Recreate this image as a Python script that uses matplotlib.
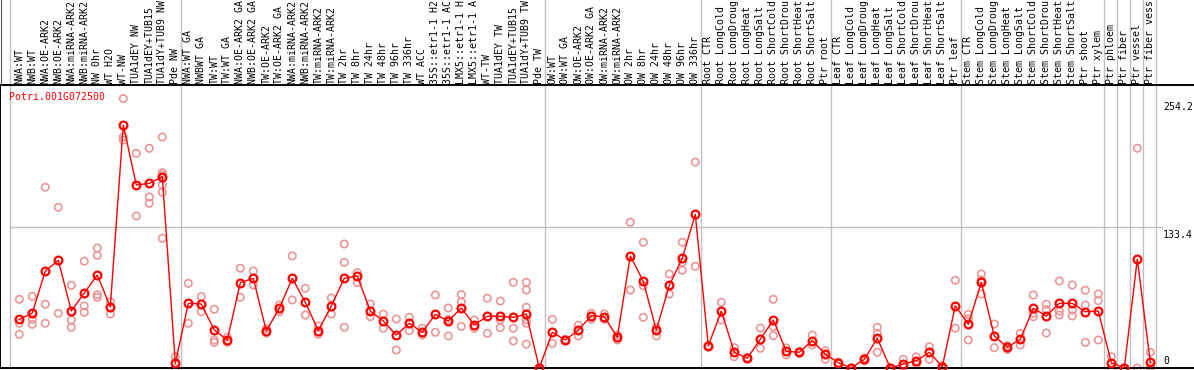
import matplotlib
matplotlib.use('Agg')
import matplotlib.pyplot as plt
import matplotlib.transforms as mtransforms
from matplotlib.lines import Line2D

gene = 'Potri.001G072500'

# sample names as they show in the header (cut at the top edge)
samples = [
    'NWA:WT', 'NWB:WT', 'NWA:OE-ARK2', 'NWB:OE-ARK2', 'NWA:miRNA-ARK2', 'NWB:miRNA-ARK2',
    'NW 0hr', 'WT H2O', 'WT-NW', 'TUA1dEY NW', 'TUA1dEY+TUB15', 'TUA1dY+TUB9 NW', 'Pde NW',
    'NWA:WT GA', 'NWBWT GA', 'TW:WT', 'TW:WT GA', 'NWA:OE-ARK2 GA', 'NWB:OE-ARK2 GA',
    'TW:OE-ARK2', 'TW:OE-ARK2 GA', 'NWA:miRNA-ARK2', 'NWB:miRNA-ARK2', 'TW:miRNA-ARK2',
    'TW:miRNA-ARK2', 'TW 2hr', 'TW 8hr', 'TW 24hr', 'TW 48hr', 'TW 96hr', 'TW 336hr',
    'WT ACC', '35S::etr1-1 H2', '35S::etr1-1 AC', 'LMX5::etr1-1 H', 'LMX5::etr1-1 A',
    'WT-TW', 'TUA1dEY TW', 'TUA1dEY+TUB15', 'TUA1dY+TUB9 TW', 'Pde TW',
    'OW:WT', 'OW:WT GA', 'OW:OE-ARK2', 'OW:OE-ARK2 GA', 'OW:miRNA-ARK2', 'OW:miRNA-ARK2',
    'OW 2hr', 'OW 8hr', 'OW 24hr', 'OW 48hr', 'OW 96hr', 'OW 336hr',
    'Root CTR', 'Root LongCold', 'Root LongDroug', 'Root LongHeat', 'Root LongSalt',
    'Root ShortCold', 'Root ShortDrou', 'Root ShortHeat', 'Root ShortSalt', 'Ptr root',
    'Leaf CTR', 'Leaf LongCold', 'Leaf LongDroug', 'Leaf LongHeat', 'Leaf LongSalt',
    'Leaf ShortCold', 'Leaf ShortDrou', 'Leaf ShortHeat', 'Leaf ShortSalt', 'Ptr leaf',
    'Stem CTR', 'Stem LongCold', 'Stem LongDroug', 'Stem LongHeat', 'Stem LongSalt',
    'Stem ShortCold', 'Stem ShortDrou', 'Stem ShortHeat', 'Stem ShortSalt', 'Ptr shoot',
    'Ptr xylem', 'Ptr phloem', 'Ptr fiber', 'Ptr vessel', 'Ptr fiber vess',
]

means = [
    45.9, 51.9, 91.5, 101.6, 53.8, 70.8, 87.7, 57.5, 229.2, 172.6, 174.2, 180.5, 4.4,
    61.0, 60.4, 35.8, 26.4, 80.5, 84.6, 34.9, 56.3, 84.6, 62.0, 35.2, 58.5, 84.6, 86.8,
    53.8, 44.3, 31.1, 42.2, 33.7, 50.7, 44.3, 56.6, 40.6, 48.8, 48.8, 47.8, 50.9, 0.0,
    33.7, 26.4, 35.8, 49.3, 48.4, 29.0, 105.7, 81.8, 35.8, 78.0, 103.5, 145.0,
    20.8, 53.8, 14.8, 9.2, 27.1, 45.3, 15.8, 14.8, 25.8, 13.2,
    5.0, 0.0, 8.2, 28.0, 0.0, 3.8, 6.9, 14.8, 1.2, 58.8,
    41.2, 80.8, 30.2, 19.5, 27.1, 56.3, 49.1, 61.0, 61.0, 53.1, 53.8,
    5.0, 0.0, 102.8, 5.4,
]

replicates = [
    [64.8, 42.2, 31.8], [67.6, 45.9, 41.2], [170.5, 60.1, 42.2], [151.6, 51.6],
    [78.0, 45.3, 38.4], [100.7, 58.5, 52.5], [113.2, 106.3, 69.2, 66.7], [62.5, 50.9, 57.5],
    [254.2, 218.0, 215.0], [202.5, 143.4], [207.3, 161.3, 155.4],
    [217.9, 184.2, 182.0, 172.6, 165.8, 122.4], [10.7, 0.0],
    [79.9, 42.2], [67.3, 53.1], [55.4, 26.4, 24.2], [29.0, 24.2], [94.1, 66.7], [91.5, 78.3],
    [33.0, 37.0], [59.4, 53.1], [105.7, 64.2], [75.2, 50.0], [39.6, 31.8], [66.0, 50.9],
    [117.0, 99.7, 38.4], [89.9, 80.5], [60.4, 48.4], [50.9, 37.5], [46.2, 17.0],
    [47.8, 35.2], [37.5, 31.1], [68.9, 33.7], [56.6, 45.9, 30.2], [69.2, 62.3, 39.3],
    [45.3, 37.5], [65.8, 32.7], [63.2, 45.3, 38.0], [80.8, 37.5, 25.5],
    [80.8, 73.6, 57.3, 45.3, 42.2, 22.4], [0.0, 0.0],
    [45.9, 23.3], [27.0, 25.8], [40.3, 30.2], [51.6, 45.9], [45.9, 51.0], [31.1, 26.4],
    [137.5, 73.6], [118.6, 77.6, 47.8], [38.4, 30.2], [88.7, 69.8], [118.6, 99.7, 92.2],
    [194.3, 95.9],
    [20.1, 21.5], [62.0, 45.3], [19.2, 10.7], [8.5, 9.9], [37.7, 18.6], [64.8, 39.0, 30.5],
    [12.3, 19.0], [14.0, 15.6], [31.1, 21.7], [16.3, 8.2],
    [4.5, 5.5], [0.0, 0.0], [6.9, 9.5], [38.4, 32.7, 14.8], [0.0, 0.0], [8.2, 1.2],
    [10.5, 3.3], [20.1, 8.2], [2.4, 0.0], [82.7, 37.5],
    [50.7, 46.5, 26.4], [88.7, 83.0, 69.8], [41.5, 19.2], [17.6, 21.0], [32.7, 21.7],
    [68.9, 48.4, 51.6], [60.1, 55.0, 33.0], [82.1, 50.0, 53.8], [78.3, 54.7, 49.1],
    [73.3, 59.4, 24.2], [69.8, 63.5, 26.4],
    [10.7, 0.0], [0.0, 0.0], [207.3, 0.0], [14.8, 1.5, 0.0],
]

separators = [-0.7, 12.4, 40.4, 52.4, 62.4, 72.4, 83.4, 84.4, 85.4, 86.4, 87.4]
ytick_values = [254.2, 133.4, 0]

W, H = 1194, 370
x0, step = 19.3, 13.0
mono = 'DejaVu Sans Mono'
grey = '#c0c0c0'
fs = 7.1

fig = plt.figure(figsize=(W / 100, H / 100), dpi=100)
ax = fig.add_axes([0, 2 / H, 1, 283 / H])
ax.set_xlim(-x0 / step, (W - x0) / step)
ax.set_ylim(0, 283 / 1.06)
ax.set_xticks([])
ax.set_yticks([])
ax.spines['right'].set_visible(False)
for s in ['left', 'top', 'bottom']:
    ax.spines[s].set_color('black')
    ax.spines[s].set_linewidth(1.4)

# thin frame line down the left of the header
fig.add_artist(Line2D([1 / W, 1 / W], [(H - 85) / H, 1], color='#555555', lw=0.8))

# grid
ax.axhline(133.4, xmin=10 / W, xmax=1162 / W, color=grey, lw=1, zorder=1)
for sx in separators:
    ax.axvline(sx, ymin=0, ymax=368 / 283, color=grey, lw=1, clip_on=False, zorder=1)

# replicates
rx, ry = [], []
for i, reps in enumerate(replicates):
    for v in reps:
        rx.append(i)
        ry.append(v)
ax.scatter(rx, ry, s=28, facecolors='none', edgecolors='#eb9696', linewidths=1.2,
           zorder=2, clip_on=False)

# means
xs = list(range(len(means)))
ax.plot(xs, means, color='red', lw=1, zorder=3, clip_on=False)
ax.plot(xs, means, ls='none', marker='o', ms=5.6, mfc='none', mec='red', mew=1.6,
        zorder=4, clip_on=False)

# right-side value labels
trans = mtransforms.blended_transform_factory(ax.transAxes, ax.transData)
for v in ytick_values:
    off = mtransforms.offset_copy(trans, fig=fig, x=0, y=(-3 if v else 2), units='dots')
    ax.text(1163 / W, v, str(v), transform=off, fontsize=fs, family=mono,
            ha='left', va='top' if v else 'bottom', color='black')

ax.text(9 / W, 1 - 12 / 283, gene, transform=ax.transAxes, fontsize=fs, family=mono,
        color='red', ha='left', va='center')

# sample labels above plot
for i, name in enumerate(samples):
    fig.text((x0 + step * i) / W, (H - 84) / H, name, rotation=90, fontsize=fs,
             family=mono, ha='center', va='bottom', color='black')

fig.savefig('out.png', dpi=100)
